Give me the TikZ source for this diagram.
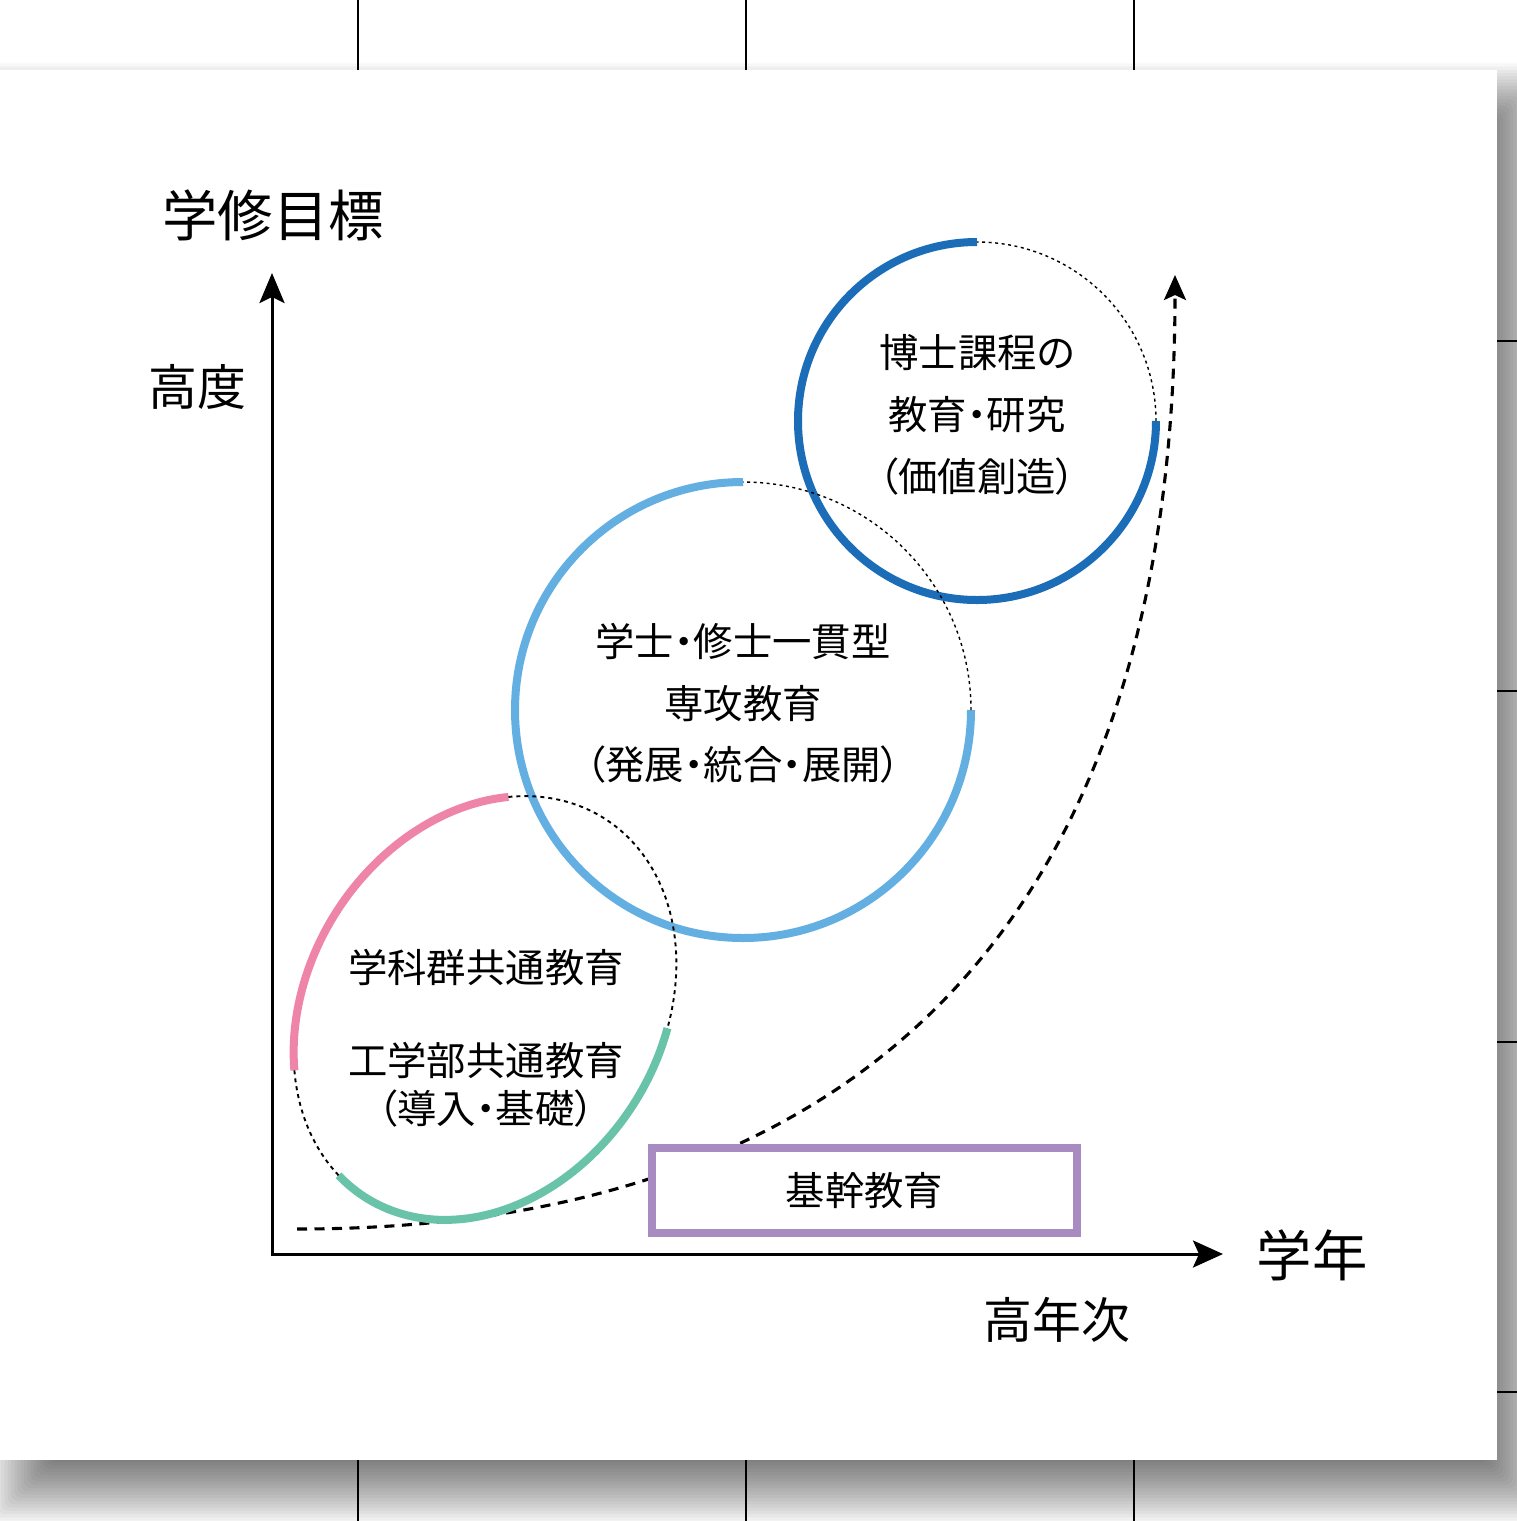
\documentclass[tikz,border=0pt]{standalone}
\usepackage{fontspec}
\setmainfont{Noto Sans CJK JP}[RawFeature=+palt]
\usetikzlibrary{arrows.meta,calc}
\definecolor{dblue}{HTML}{1B6DB7}
\definecolor{lblue}{HTML}{63AFE2}
\definecolor{pinkc}{HTML}{EE85A8}
\definecolor{greenc}{HTML}{69C3A9}
\definecolor{purplec}{HTML}{A88BC0}
\tikzset{
  gridline/.style={line width=0.45mm, black},
  axis/.style={line width=0.6mm, line join=miter},
  bigarc/.style={line width=1.6mm},
  dotarc/.style={line width=0.28mm, dash pattern=on 0.6mm off 0.7mm},
  dotarcb/.style={line width=0.38mm, dash pattern=on 0.8mm off 0.8mm},
  pathcurve/.style={line width=0.62mm, dash pattern=on 2mm off 1.5mm},
  lbl/.style={font=\fontsize{22.4}{35.1}\selectfont, align=center, inner sep=0pt},
  lbltight/.style={font=\fontsize{22.4}{27.2}\selectfont, align=center, inner sep=0pt},
  axlbl/.style={font=\fontsize{31.5}{36}\selectfont, inner sep=0pt},
  axsub/.style={font=\fontsize{27.8}{32}\selectfont, inner sep=0pt},
  boxstyle/.style={draw=purplec, line width=1.55mm, fill=white, minimum width=85mm, minimum height=17mm, inner sep=0pt, font=\fontsize{22.4}{27}\selectfont}
}
\begin{document}
\begin{tikzpicture}[x=0.2mm,y=-0.2mm]
\useasboundingbox (0,0) rectangle (1517,1521);
\clip (0,0) rectangle (1517,1521);
\fill[white] (0,0) rectangle (1517,1521);
% shadow
\foreach \i in {1,...,20} {
  \fill[black, opacity=0.031, rounded corners=4pt] ({-15+3.25*\i},{60+3.25*\i}) rectangle ({1555-3.25*\i},{1527-3.25*\i});
}
% background grid lines
\foreach \gx in {358,746,1134} { \draw[gridline] (\gx,0) -- (\gx,1521); }
\foreach \gy in {341,691,1042,1392} { \draw[gridline] (0,\gy) -- (1517,\gy); }
% panel
\fill[white] (0,70) rectangle (1497,1460);

% axes
\coordinate (O) at (272,1254);
\coordinate (ytip) at (272,273);
\coordinate (xtip) at (1223,1254);
\draw[axis, {Stealth[length=6mm,width=5mm,inset=1.2mm]}-{Stealth[length=6mm,width=5.4mm,inset=1.2mm]}] (ytip) -- (O) -- (xtip);

% growth curve
\coordinate (cs) at (297,1229);
\coordinate (ce) at (1175,275);
\draw[pathcurve, -{Stealth[length=5mm,width=4.4mm,inset=1mm]}] (cs) .. controls (880,1229) and (1175,900) .. (ce);

% top circle
\coordinate (c1) at (977,421);
\draw[bigarc, dblue] ($(c1)+(0,-179)$) arc[start angle=270, end angle=0, radius=179];
\draw[dotarc] ($(c1)+(179,0)$) arc[start angle=0, end angle=-90, radius=179];

% middle circle
\coordinate (c2) at (743,710);
\draw[bigarc, lblue] ($(c2)+(0,-228)$) arc[start angle=270, end angle=0, radius=228];
\draw[dotarc] ($(c2)+(228,0)$) arc[start angle=0, end angle=-90, radius=228];

% bottom ellipse
\draw[bigarc, pinkc] plot[domain=-133.4:-31.3, samples=80, variable=\t] ({485+118.7*cos(\t)+150.1*sin(\t)}, {1008-190*cos(\t)+93.8*sin(\t)});
\draw[bigarc, greenc] plot[domain=69.2:191.6, samples=80, variable=\t] ({485+118.7*cos(\t)+150.1*sin(\t)}, {1008-190*cos(\t)+93.8*sin(\t)});
\draw[dotarcb] plot[domain=-31.3:69.2, samples=80, variable=\t] ({485+118.7*cos(\t)+150.1*sin(\t)}, {1008-190*cos(\t)+93.8*sin(\t)});
\draw[dotarcb] plot[domain=191.6:226.6, samples=30, variable=\t] ({485+118.7*cos(\t)+150.1*sin(\t)}, {1008-190*cos(\t)+93.8*sin(\t)});

% box
\node[boxstyle] (kikan) at (864.5,1190.5) {基幹教育};

% circle texts
\node[lbl] (t1) at (977,415) {博士課程の\\教育・研究\\（価値創造）};
\node[lbl] (t2) at (743,703.5) {学士・修士一貫型\\専攻教育\\（発展・統合・展開）};
\node[lbl] (t3a) at (486,967) {学科群共通教育};
\node[lbltight] (t3b) at (486,1085) {工学部共通教育\\（導入・基礎）};

% axis labels
\node[axlbl] (ylab) at (273,215) {学修目標};
\node[axsub] (ysub) at (197,387) {高度};
\node[axlbl] (xlab) at (1312,1255) {学年};
\node[axsub] (xsub) at (1057,1320) {高年次};
\end{tikzpicture}
\end{document}
